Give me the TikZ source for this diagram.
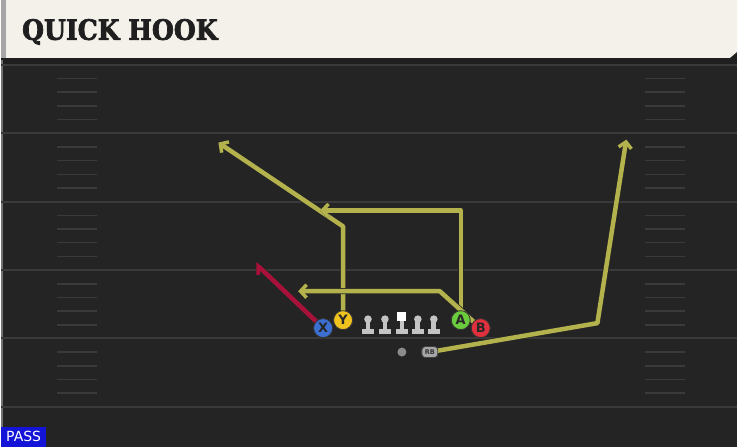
\documentclass[tikz,border=0pt]{standalone}
\usepackage{fontspec}
\setmainfont{DejaVu Sans}
\newfontfamily\titlefont[FakeBold=2.5]{DejaVu Serif Condensed Bold}
\usetikzlibrary{arrows.meta}

\definecolor{fieldbg}{HTML}{242424}
\definecolor{bandbg}{HTML}{F4F1EA}
\definecolor{lineclr}{HTML}{3A3A3A}
\definecolor{routeyel}{HTML}{B4B24C}
\definecolor{routered}{HTML}{A8123A}
\definecolor{xblue}{HTML}{3C6FD2}
\definecolor{yyellow}{HTML}{F0C21E}
\definecolor{agreen}{HTML}{6ACB3C}
\definecolor{bred}{HTML}{E0303E}
\definecolor{mangray}{HTML}{C4C4C4}
\definecolor{passblue}{HTML}{1414D8}

\tikzset{
  route/.style={line width=4.5pt, draw=routeyel, line cap=round, line join=round,
    preaction={draw=black!85, line width=6pt}},
  rtip/.style={-{Straight Barb[length=6pt,width=13pt,line width=3.5pt]}},
  htip/.style={-{Straight Barb[left,length=6pt,width=13pt,line width=3.5pt]}},
  player/.style={circle, minimum size=19pt, inner sep=0pt, draw=black!80,
    line width=0.8pt, font=\bfseries\fontsize{13}{13}\selectfont, text=black!85},
  rbman/.style={fill=black!35, draw=black!75, line width=0.8pt, rounded corners=3.5pt,
    minimum width=16pt, minimum height=11pt, inner sep=0pt,
    font=\bfseries\fontsize{6.5}{6.5}\selectfont, text=black!80},
  lman/.pic={
    \fill[mangray] (0,-6) circle (3.8);
    \fill[mangray] (-2.4,-6) rectangle (2.4,5);
    \fill[mangray] (-6,4) rectangle (6,9);
  },
  cman/.pic={
    \fill[white] (-4.5,-13) rectangle (4.5,-4);
    \fill[mangray] (-2.4,-4.5) rectangle (2.4,5);
    \fill[mangray] (-6,4) rectangle (6,9);
  }
}

\begin{document}
\begin{tikzpicture}[x=1pt,y=-1pt]
  % feld
  \fill[fieldbg] (0,0) rectangle (738,448);
  \fill[black!88] (0,56) rectangle (738,66);
  \fill[black!55] (0,60) rectangle (2,448);
  % kopf
  \fill[bandbg] (0,0) -- (738,0) -- (738,52) -- (731,58) -- (0,58) -- cycle;
  \fill[black!35] (0,0) rectangle (5,58);
  \node[anchor=west, inner sep=0pt, text=black!88,
    font=\titlefont\fontsize{28}{28}\selectfont] (title) at (21,32) {QUICK HOOK};
  % linien
  \foreach \k in {0,...,5}
    \draw[lineclr, line width=2pt] (0,{65+68.6*\k}) -- (738,{65+68.6*\k});
  \foreach \k in {0,...,4}
    \foreach \j in {1,...,4} {
      \draw[lineclr, line width=1.5pt] (56,{65+68.6*\k+13.72*\j}) -- (96,{65+68.6*\k+13.72*\j});
      \draw[lineclr, line width=1.5pt] (646,{65+68.6*\k+13.72*\j}) -- (686,{65+68.6*\k+13.72*\j});
    }
  % knicke
  \coordinate (x1) at (255,264);
  \coordinate (y1) at (343,227);
  \coordinate (y2) at (218,143);
  \coordinate (a1) at (461,211);
  \coordinate (a2) at (320,211);
  \coordinate (b1) at (440,292);
  \coordinate (b2) at (298,292);
  \coordinate (r1) at (598,324);
  \coordinate (r2) at (627,140);
  % spieler
  \path (323,329) node[player, fill=xblue] (X) {};
  \path (343,321) node[player, fill=yyellow] (Y) {};
  \path (461,321) node[player, fill=agreen] (A) {};
  \path (481,329) node[player, fill=bred] (B) {};
  \path (402,353) node[circle, fill=black!45, minimum size=9pt, inner sep=0pt] (QB) {};
  \path (430,353) node[rbman] (RB) {};
  % routen
  \draw[route, draw=routered, htip] (X.center) -- (x1);
  \draw[route, rtip] (Y.center) -- (y1) -- (y2);
  \draw[route, rtip] (A.center) -- (a1) -- (a2);
  \draw[route, rtip] (B.center) -- (b1) -- (b2);
  \draw[route, rtip] (RB.center) -- (r1) -- (r2);
  % oben drauf
  \path (323,329) node[player, fill=xblue] {X};
  \path (343,321) node[player, fill=yyellow] {Y};
  \path (461,321) node[player, fill=agreen] {A};
  \path (481,329) node[player, fill=bred] {B};
  \path (430,353) node[rbman] {RB};
  \pic (lt) at (368,326) {lman};
  \pic (lg) at (385,326) {lman};
  \pic (c) at (402,326) {cman};
  \pic (rg) at (418,326) {lman};
  \pic (rt) at (434,326) {lman};
  % art
  \node[fill=passblue, text=white, anchor=south west, minimum width=45pt,
    minimum height=20pt, inner sep=0pt, font=\fontsize{14}{14}\selectfont] (pass) at (0,448) {PASS};
\end{tikzpicture}
\end{document}
